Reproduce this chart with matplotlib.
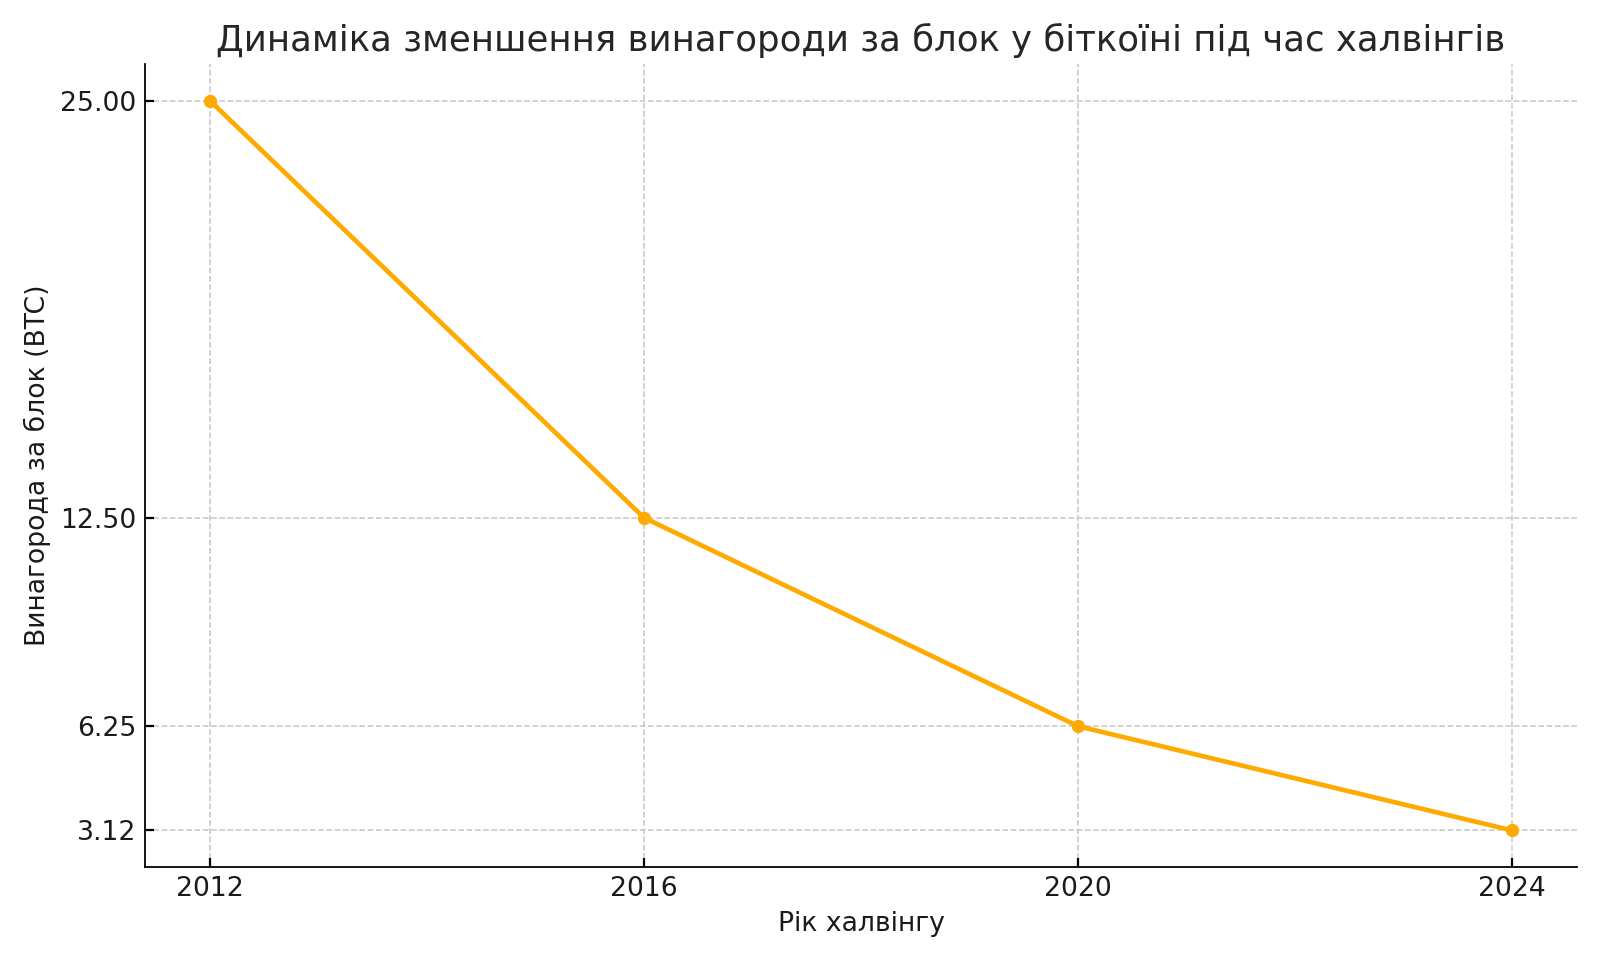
import matplotlib
matplotlib.use("Agg")
from matplotlib import pyplot as plt

years = [2012, 2016, 2020, 2024]
rewards = [25.0, 12.5, 6.25, 3.125]
ytick_labels = ["25.00", "12.50", "6.25", "3.12"]

plt.rcParams['font.family'] = ['DejaVu Sans']
plt.rcParams['xtick.direction'] = 'in'
plt.rcParams['ytick.direction'] = 'in'

fig, ax = plt.subplots(figsize=(10, 6), dpi=160)
fig.subplots_adjust(left=0.0906, right=0.9856, bottom=0.097, top=0.933)

ax.plot(years, rewards, marker='o', color='#FFAA00', linewidth=2.1, markersize=5)

ax.set_xticks(years)
ax.set_yticks(rewards)
ax.set_yticklabels(ytick_labels)
ax.tick_params(labelsize=12, length=4, width=1, pad=4, labelcolor='#1a1a1a')

ax.grid(True, linestyle='--', color='#c8c8c8', linewidth=0.7)
ax.spines['top'].set_visible(False)
ax.spines['right'].set_visible(False)

ax.set_title("Динаміка зменшення винагороди за блок у біткоїні під час халвінгів", fontsize=16, color='#262626')
ax.set_xlabel("Рік халвінгу", fontsize=12, color='#1a1a1a')
ax.set_ylabel("Винагорода за блок (BTC)", fontsize=12, color='#1a1a1a')

fig.savefig("out.png", dpi=160)
